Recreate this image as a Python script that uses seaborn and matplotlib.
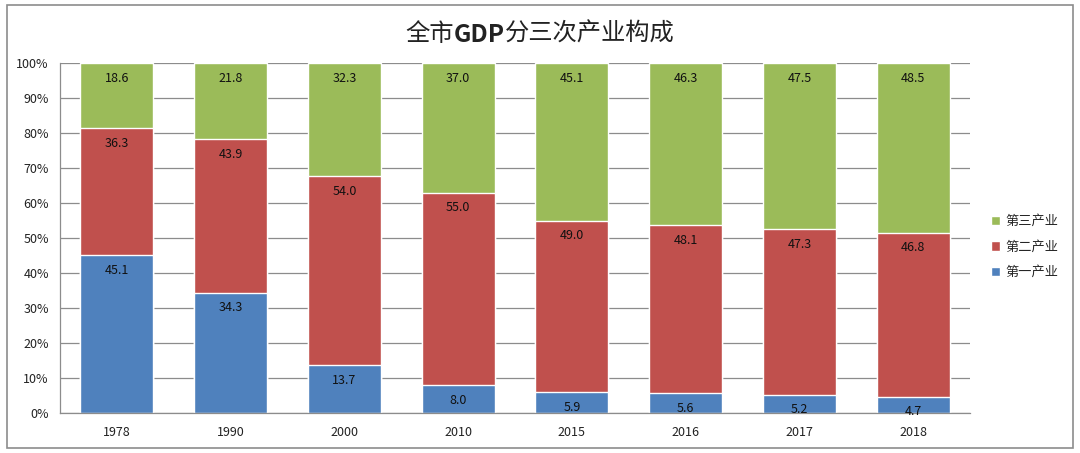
import matplotlib
matplotlib.use("Agg")
import matplotlib.pyplot as plt
from matplotlib.patches import Rectangle
import numpy as np
import pandas as pd
import seaborn as sns

# 数据 (%)
years = ["1978", "1990", "2000", "2010", "2015", "2016", "2017", "2018"]
primary = [45.1, 34.3, 13.7, 8.0, 5.9, 5.6, 5.2, 4.7]
secondary = [36.3, 43.9, 54.0, 55.0, 49.0, 48.1, 47.3, 46.8]
tertiary = [18.6, 21.8, 32.3, 37.0, 45.1, 46.3, 47.5, 48.5]

COLORS = {"第一产业": "#4F81BD", "第二产业": "#C0504D", "第三产业": "#9BBB59"}

sns.set_style("white")
plt.rcParams["font.family"] = ["Noto Sans CJK SC", "DejaVu Sans"]

df = pd.DataFrame({"year": years, "p": primary, "s": secondary, "t": tertiary})
df["ps"] = df["p"] + df["s"]
df["pst"] = df["ps"] + df["t"]

fig = plt.figure(figsize=(10.8, 4.53), dpi=100)
ax = fig.add_axes([60 / 1080, 1 - 413 / 453, 910 / 1080, 350 / 453])

# 叠加绘制: 先画总高度, 再依次覆盖
sns.barplot(data=df, x="year", y="pst", color=COLORS["第三产业"], width=0.64,
            saturation=1, ax=ax, zorder=2, label="第三产业")
sns.barplot(data=df, x="year", y="ps", color=COLORS["第二产业"], width=0.64,
            saturation=1, ax=ax, zorder=2, label="第二产业")
sns.barplot(data=df, x="year", y="p", color=COLORS["第一产业"], width=0.64,
            saturation=1, ax=ax, zorder=2, label="第一产业")

# 数值标签: 放在每段顶端内侧
for i, row in df.iterrows():
    for top, val in [(row["p"], row["p"]), (row["ps"], row["s"]),
                     (row["pst"], row["t"])]:
        ax.annotate(f"{val:.1f}", xy=(i, top), xytext=(0, -15),
                    textcoords="offset pixels", ha="center", va="center",
                    fontsize=9, color="#111111", zorder=3)

ax.set_ylim(0, 100)
ax.set_xlim(-0.5, len(years) - 0.5)
ax.set_yticks(np.arange(0, 101, 10))
ax.set_yticklabels([f"{v}%" for v in range(0, 101, 10)])
ax.set_xlabel("")
ax.set_ylabel("")
ax.tick_params(axis="both", length=0, labelsize=9, colors="#222222")
ax.tick_params(axis="x", pad=9)
ax.tick_params(axis="y", pad=8)
ax.yaxis.grid(True, color="#8c8c8c", linewidth=0.9, zorder=0)
ax.set_axisbelow(True)
for side in ["top", "right"]:
    ax.spines[side].set_visible(False)
for side in ["left", "bottom"]:
    ax.spines[side].set_color("#8c8c8c")
    ax.spines[side].set_linewidth(0.9)

handles, labels = ax.get_legend_handles_labels()
ax.legend(handles, labels, loc="center left", bbox_to_anchor=(1.01, 0.474),
          frameon=False, fontsize=9.5, handlelength=0.7, handleheight=0.7,
          handletextpad=0.4, labelspacing=0.95)

# 标题: 全市 + GDP(粗体) + 分三次产业构成
t1 = fig.text(405 / 1080, 1 - 34 / 453, "全市", fontsize=17.5, va="center",
              ha="left", color="#222222")
t2 = ax.annotate("GDP", xy=(1, 0), xycoords=t1, va="bottom", ha="left",
                 fontsize=17.5, fontweight="bold", color="#222222",
                 annotation_clip=False)
ax.annotate("分三次产业构成", xy=(1, 0), xycoords=t2, va="bottom", ha="left",
            fontsize=17.5, color="#222222", annotation_clip=False)

# 外框
fig.patches.append(Rectangle((7 / 1080, 5 / 453), 1066 / 1080, 443 / 453,
                             transform=fig.transFigure, fill=False,
                             edgecolor="#8c8c8c", linewidth=1.2))

fig.savefig("out.png", dpi=100)
plt.close(fig)
